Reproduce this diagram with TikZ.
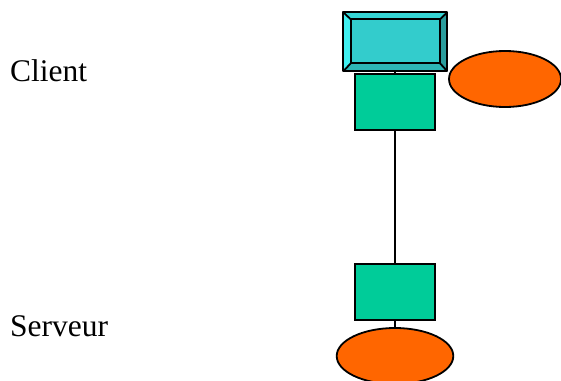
\documentclass[tikz,border=0pt]{standalone}
\usepackage{fontspec}
\setmainfont{Liberation Serif}
\usetikzlibrary{shapes.geometric}
\definecolor{teal face}{HTML}{33CCCC}
\definecolor{teal light}{HTML}{40F0F0}
\definecolor{teal top}{HTML}{36D6D6}
\definecolor{teal dark}{HTML}{2A9C9C}
\definecolor{teal low}{HTML}{2DB5B5}
\definecolor{box green}{HTML}{00CC99}
\definecolor{disc orange}{HTML}{FF6600}
\tikzset{
  label text/.style={anchor=base west, inner sep=0pt, font=\fontsize{31.5}{36}\selectfont},
  greenbox/.style={draw=black, line width=1.8pt, fill=box green, minimum width=80pt, minimum height=56pt, inner sep=0pt},
  disc/.style={draw=black, line width=1.8pt, fill=disc orange, ellipse, inner sep=0pt},
  wire/.style={line width=1.3pt, black},
  bevel edge/.style={draw=black, line width=1.8pt, line join=round}
}
\begin{document}
\begin{tikzpicture}[x=1pt,y=-1pt]
\useasboundingbox (0,0) rectangle (561,380);

% labels
\node[label text] (client) at (10,81) {Client};
\node[label text] (server) at (10,336) {Serveur};

% bevelled screen on top of the client
\coordinate (oa) at (343.3,12.3);
\coordinate (ob) at (447.3,71.3);
\fill[teal top]   (343.3,12.3) -- (447.3,12.3) -- (440,19.3) -- (350.7,19.3) -- cycle;
\fill[teal light] (343.3,12.3) -- (350.7,19.3) -- (350.7,63.3) -- (343.3,71.3) -- cycle;
\fill[teal dark]  (447.3,12.3) -- (447.3,71.3) -- (440,63.3) -- (440,19.3) -- cycle;
\fill[teal low]   (343.3,71.3) -- (350.7,63.3) -- (440,63.3) -- (447.3,71.3) -- cycle;
\node[draw=black, line width=1.8pt, fill=teal face, minimum width=89.3pt, minimum height=44pt, inner sep=0pt] (screen) at (395.35,41.3) {};
\draw[bevel edge] (oa) rectangle (ob);
\draw[bevel edge] (343.3,12.3) -- (350.7,19.3) (447.3,12.3) -- (440,19.3)
  (343.3,71.3) -- (350.7,63.3) (447.3,71.3) -- (440,63.3);
\coordinate (screen bottom) at (395,71.3);

% boxes
\node[greenbox] (clientbox) at (395,102.3) {};
\node[greenbox] (serverbox) at (395,292.2) {};

% discs
\node[disc, minimum width=112pt, minimum height=56pt] (clientdisc) at (505,79) {};
\node[disc, minimum width=116.6pt, minimum height=56pt] (serverdisc) at (395,356) {};

% connectors
\draw[wire] (screen bottom) -- (clientbox.north);
\draw[wire] (clientbox.south) -- (serverbox.north);
\draw[wire] (serverbox.south) -- (serverdisc.north);
\end{tikzpicture}
\end{document}
